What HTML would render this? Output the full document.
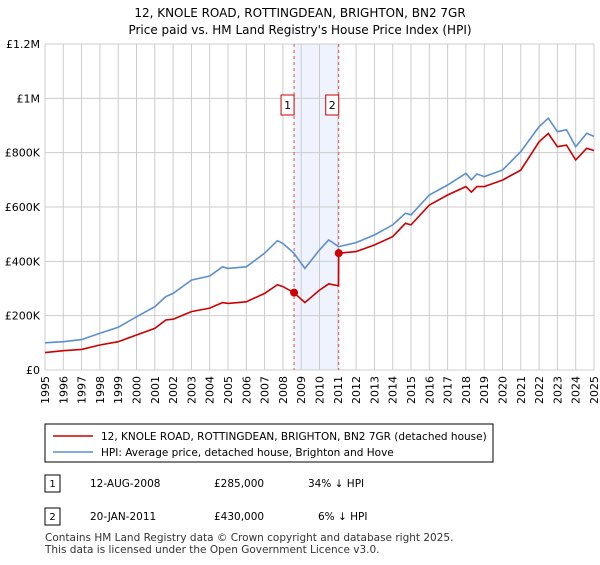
<!DOCTYPE html>
<html><head><meta charset="utf-8"><style>
body{margin:0;background:#fff;font-family:"Liberation Sans","DejaVu Sans",sans-serif;}
svg text{font-family:"DejaVu Sans","Liberation Sans",sans-serif;}
</style></head><body>
<svg width="600" height="560" xmlns="http://www.w3.org/2000/svg">
<text x="300" y="17" text-anchor="middle" font-size="12">12, KNOLE ROAD, ROTTINGDEAN, BRIGHTON, BN2 7GR</text>
<text x="300" y="34" text-anchor="middle" font-size="12">Price paid vs. HM Land Registry's House Price Index (HPI)</text>
<g id="plot"></g>
<rect x="45" y="424" width="448" height="38" fill="#fff" stroke="#000"/>
<line x1="53" y1="436" x2="93" y2="436" stroke="#cc0000" stroke-width="1.5"/>
<text x="101" y="440" font-size="10.5">12, KNOLE ROAD, ROTTINGDEAN, BRIGHTON, BN2 7GR (detached house)</text>
<line x1="53" y1="452" x2="93" y2="452" stroke="#5b8fd0" stroke-width="1.5"/>
<text x="101" y="456" font-size="10.5">HPI: Average price, detached house, Brighton and Hove</text>
<rect x="45" y="475" width="15" height="17" fill="#fff" stroke="#000"/>
<text x="52.5" y="487" text-anchor="middle" font-size="10">1</text>
<text x="90" y="487" font-size="10.5">12-AUG-2008</text>
<text x="214" y="487" font-size="10.5">£285,000</text>
<text x="308" y="487" font-size="10.5">34% ↓ HPI</text>
<rect x="45" y="508" width="15" height="17" fill="#fff" stroke="#000"/>
<text x="52.5" y="520" text-anchor="middle" font-size="10">2</text>
<text x="90" y="520" font-size="10.5">20-JAN-2011</text>
<text x="214" y="520" font-size="10.5">£430,000</text>
<text x="318" y="520" font-size="10.5">6% ↓ HPI</text>
<text x="45" y="541" font-size="10.5" fill="#333">Contains HM Land Registry data © Crown copyright and database right 2025.</text>
<text x="45" y="553" font-size="10.5" fill="#333">This data is licensed under the Open Government Licence v3.0.</text>
</svg>
<script>
const hpiYears=[1995,1996,1997,1998,1999,2000,2001,2001.6,2002,2003,2004,2004.7,2005,2006,2007,2007.7,2008,2008.6,2009.2,2010,2010.5,2011.05,2012,2013,2014,2014.7,2015,2016,2017,2018,2018.3,2018.6,2019,2020,2021,2022,2022.5,2023,2023.5,2024,2024.6,2025];
const hpiValues=[100000,104000,112000,135000,157000,196000,233000,270000,282000,331000,346000,380000,374000,380000,430000,476000,466000,430000,374000,442000,479000,454000,469000,497000,534000,577000,571000,644000,681000,724000,700000,722000,712000,736000,804000,896000,927000,877000,884000,822000,871000,860000];
const redYears=[1995,1996,1997,1998,1999,2000,2001,2001.6,2002,2003,2004,2004.7,2005,2006,2007,2007.7,2008,2008.6,2009.2,2010,2010.5,2011.04,2011.05,2012,2013,2014,2014.7,2015,2016,2017,2018,2018.3,2018.6,2019,2020,2021,2022,2022.5,2023,2023.5,2024,2024.6,2025];
const redValues=[64000,71000,76000,92000,104000,129000,153000,184000,187000,215000,228000,248000,245000,251000,282000,314000,307000,285000,248000,294000,317000,310000,430000,436000,460000,491000,540000,534000,607000,644000,675000,655000,675000,675000,699000,736000,840000,871000,822000,828000,773000,816000,808000];
const saleYears=[2008.61,2011.05];
const saleValues=[285000,430000];
const saleLabels=["1","2"];
const yTicks=[0,200000,400000,600000,800000,1000000,1200000];
const yTickLabels=["£0","£200K","£400K","£600K","£800K","£1M","£1.2M"];
const xTicks=[];for(let y=1995;y<=2025;y++)xTicks.push(y);
const X0=45,X1=594,Y0=370,Y1=44;
const xs=y=>X0+(y-1995)/30*(X1-X0);
const ys=v=>Y0-v/1200000*(Y0-Y1);
const NS="http://www.w3.org/2000/svg";
const g=document.getElementById('plot');
function mk(t,a){const e=document.createElementNS(NS,t);for(const k in a)e.setAttribute(k,a[k]);g.appendChild(e);return e;}
let e=mk('rect',{x:xs(saleYears[0]),y:Y1,width:xs(saleYears[1])-xs(saleYears[0]),height:Y0-Y1,fill:'#eef3fd'});


yTicks.forEach((v,i)=>{
 let l=mk('line',{x1:X0,x2:X1,y1:ys(v),y2:ys(v),stroke:'#cccccc'});
 
 
 let t=mk('text',{x:40,y:ys(v)+4,'text-anchor':'end','font-size':'11'});t.textContent=yTickLabels[i];
 
 
});
xTicks.forEach(yr=>{
 let l=mk('line',{x1:xs(yr),x2:xs(yr),y1:Y1,y2:Y0,stroke:'#cccccc'});
 
 
 let t=mk('text',{x:0,y:0,'text-anchor':'end','font-size':'11',transform:`translate(${xs(yr)+4},${Y0+6}) rotate(-90)`});t.textContent=yr;
 
 
});
saleYears.forEach((s,i)=>{
 let l=mk('line',{x1:xs(s),x2:xs(s),y1:Y1,y2:Y0,stroke:'#e05050','stroke-dasharray':'3,3'});
 
 
});
function path(xsArr,vsArr,col,name){
 let d=xsArr.map((yr,i)=>(i?'L':'M')+xs(yr).toFixed(1)+','+ys(vsArr[i]).toFixed(1)).join('');
 let p=mk('path',{d:d,fill:'none',stroke:col,'stroke-width':1.6});
 
 
}
path(hpiYears,hpiValues,'#5b8fd0','hpi-line');
path(redYears,redValues,'#cc0000','property-price-line');
saleYears.forEach((s,i)=>{
 let c=mk('circle',{cx:xs(s),cy:ys(saleValues[i]),r:4,fill:'#cc0000'});
 
 
 let b=mk('rect',{x:xs(s)-13,y:95,width:13,height:20,fill:'#fff',stroke:'#cc0000'});
 
 
 let t=mk('text',{x:xs(s)-6.5,y:109,'text-anchor':'middle','font-size':'11'});t.textContent=saleLabels[i];
 
 
});
</script>
</body></html>
